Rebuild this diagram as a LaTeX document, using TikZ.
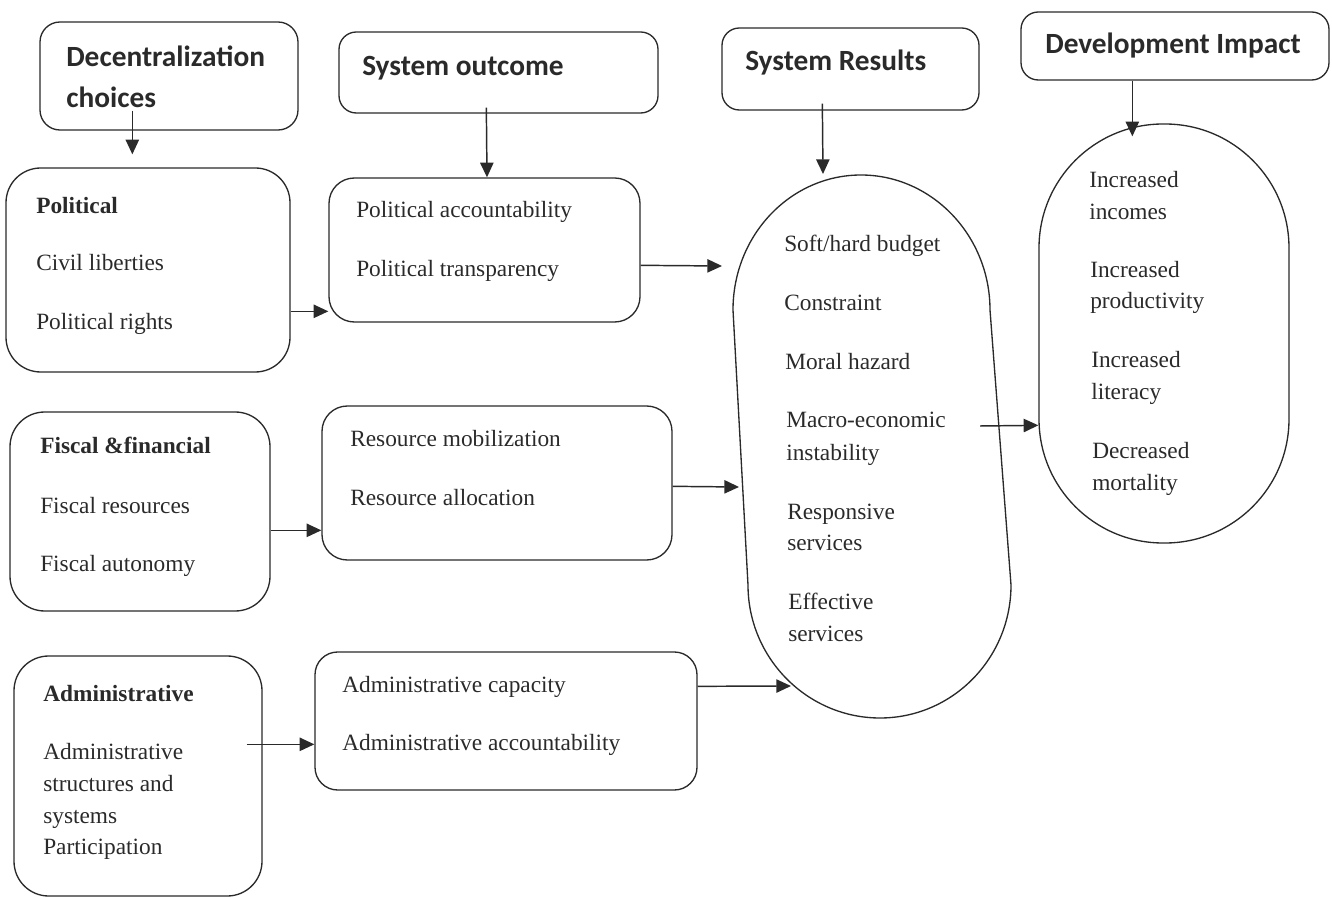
\documentclass[tikz,border=0pt]{standalone}
\usepackage{fontspec}
\setmainfont{Liberation Serif}
\newfontfamily\hdfont{Carlito}
\usetikzlibrary{arrows.meta,calc,fit}
\definecolor{ink}{HTML}{2A2A2A}
\begin{document}
\begin{tikzpicture}[x=0.75pt,y=-0.75pt,
  box/.style={draw=ink, line width=1pt, inner sep=0pt, rounded corners=#1},
  hd/.style={font=\hdfont\bfseries\fontsize{22}{26}\selectfont, anchor=base west, inner sep=0pt, text=ink},
  tx/.style={font=\fontsize{17.5}{21}\selectfont, anchor=base west, inner sep=0pt, text=ink},
  bt/.style={font=\bfseries\fontsize{17.5}{21}\selectfont, anchor=base west, inner sep=0pt, text=ink},
  arr/.style={draw=ink, line width=1.1pt, -{Triangle[length=11pt,width=10pt]}},
  stad/.style={draw=ink, line width=1pt}
]
\useasboundingbox (0,0) rectangle (1332,898);
% header boxes
\node[box=15pt, fit={(40,22) (298,130)}] (dc) {};
\node[box=13pt, fit={(339,32) (658,113)}] (so) {};
\node[box=13pt, fit={(722,28) (979,110)}] (srh) {};
\node[box=13pt, fit={(1021,12) (1329,80)}] (di) {};
\node[hd] at (66,67) {Decentralization};
\node[hd] at (66,108) {choices};
\node[hd] at (362,76) {System outcome};
\node[hd] at (745,71) {System Results};
\node[hd] at (1045,54) {Development Impact};
% left column
\node[box=26pt, fit={(6,168) (290,372)}] (pol) {};
\node[bt] at (36,214) {Political};
\node[tx] at (36,271) {Civil liberties};
\node[tx] at (36,330) {Political rights};
\node[box=26pt, fit={(10,412) (270,611)}] (fis) {};
\node[bt] at (40,454) {Fiscal \&financial};
\node[tx] at (40,513) {Fiscal resources};
\node[tx] at (40,571) {Fiscal autonomy};
\node[box=26pt, fit={(14,656) (262,896)}] (adm) {};
\node[bt] at (43,701) {Administrative};
\node[tx] at (43,759) {Administrative};
\node[tx] at (43,791) {structures and};
\node[tx] at (43,823) {systems};
\node[tx] at (43,854) {Participation};
% middle column
\node[box=19pt, fit={(329,178) (640,322)}] (pa) {};
\node[tx] at (356,218) {Political accountability};
\node[tx] at (356,277) {Political transparency};
\node[box=19pt, fit={(322,406) (672,560)}] (rm) {};
\node[tx] at (350,447) {Resource mobilization};
\node[tx] at (350,506) {Resource allocation};
\node[box=17pt, fit={(315,652) (697,790)}] (ac) {};
\node[tx] at (342,692) {Administrative capacity};
\node[tx] at (342,750) {Administrative accountability};
% system results stadium
\draw[stad] (733,310) .. controls (733,235.4) and (790.3,175) .. (861,175)
  .. controls (931.7,175) and (990,235.4) .. (990,310) -- (1011,585)
  .. controls (1011,658.5) and (952.3,718) .. (880,718)
  .. controls (807.7,718) and (748,658.5) .. (748,585) -- cycle;
\coordinate (srtop) at (823,174);
\coordinate (srin1) at (722,266);
\coordinate (srin2) at (739,487);
\coordinate (srin3) at (791,686);
\coordinate (srout) at (980,426);
\node[tx] at (784,252) {Soft/hard budget};
\node[tx] at (784,311) {Constraint};
\node[tx] at (785,370) {Moral hazard};
\node[tx] at (786,428) {Macro-economic};
\node[tx] at (786,460) {instability};
\node[tx] at (787,519) {Responsive};
\node[tx] at (787,551) {services};
\node[tx] at (788,609) {Effective};
\node[tx] at (788,641) {services};
% development stadium
\node[stad, inner sep=0pt, rounded corners=93pt, fit={(1039,124) (1289,543)}] (dev) {};
\node[tx] at (1089,188) {Increased};
\node[tx] at (1089,220) {incomes};
\node[tx] at (1090,278) {Increased};
\node[tx] at (1090,309) {productivity};
\node[tx] at (1091,368) {Increased};
\node[tx] at (1091,400) {literacy};
\node[tx] at (1092,459) {Decreased};
\node[tx] at (1092,491) {mortality};
% connectors
\draw[arr] ($(dc.south west)+(93,-20)$) -- ($(pol.north west)+(127,-13)$);
\draw[arr] ($(so.south west)+(148,-6)$) -- (pa.north west -| 487,0);
\draw[arr] ($(srh.south west)+(101,-7)$) -- (srtop);
\draw[arr] ($(di.south west)+(112,0)$) -- ($(dev.north west)+(94,13)$);
\draw[arr] ($(pol.north east)+(0,144)$) -- ($(pa.north west)+(0,134)$);
\draw[arr] ($(pa.north east)+(0,88)$) -- (srin1);
\draw[arr] ($(fis.north east)+(0,119)$) -- ($(rm.north west)+(0,125)$);
\draw[arr] ($(rm.north east)+(0,81)$) -- (srin2);
\draw[arr] ($(adm.north east)+(-16,89)$) -- ($(ac.north west)+(0,93)$);
\draw[arr] ($(ac.north east)+(0,35)$) -- (srin3);
\draw[arr] (srout) -- ($(dev.north west)+(0,302)$);
\end{tikzpicture}
\end{document}
